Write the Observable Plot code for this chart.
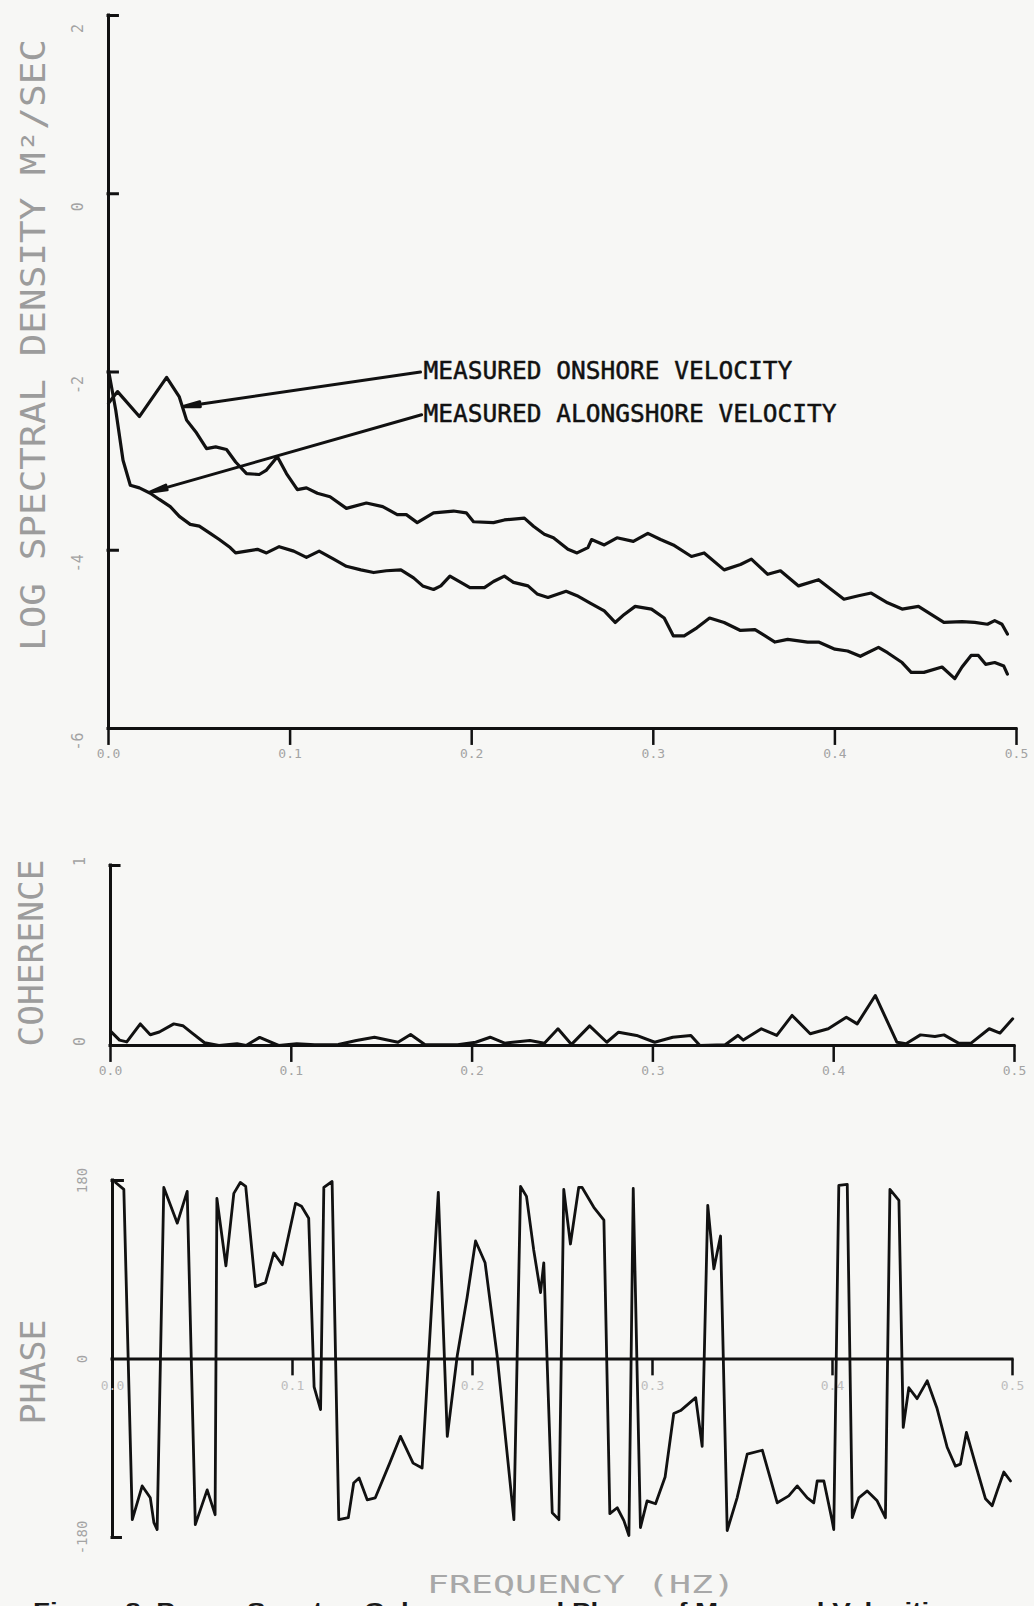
<!DOCTYPE html>
<html><head><meta charset="utf-8">
<script src="https://cdn.jsdelivr.net/npm/d3@7"></script>
<script src="https://cdn.jsdelivr.net/npm/@observablehq/plot@0.6"></script>
<style>
html,body{margin:0;padding:0;background:#f7f7f5;overflow:hidden;}
#wrap{position:relative;width:1034px;height:1606px;background:#f7f7f5;overflow:hidden;}
#wrap > svg{position:absolute;left:0;}
</style></head><body><div id="wrap"></div>
<script>
// ---------- data ----------
const freqTicks = [0, 0.1, 0.2, 0.3, 0.4, 0.5];
const freqTickLabels = ["0.0", "0.1", "0.2", "0.3", "0.4", "0.5"];

const specYTicks = [2, 0, -2, -4, -6];
const specYLabels = ["2", "0", "-2", "-4", "-6"];
const cohYTicks = [1, 0];
const cohYLabels = ["1", "0"];
const phaseYTicks = [180, 0, -180];
const phaseYLabels = ["180", "0", "-180"];

const onshoreF = [0.000,0.005,0.017,0.032,0.039,0.043,0.048,0.054,0.059,0.065,0.070,0.076,0.083,0.087,0.093,0.098,0.104,0.109,0.115,0.122,0.131,0.142,0.151,0.159,0.164,0.170,0.179,0.190,0.197,0.201,0.212,0.218,0.229,0.234,0.240,0.245,0.253,0.258,0.264,0.266,0.273,0.280,0.289,0.297,0.304,0.311,0.321,0.328,0.339,0.348,0.354,0.363,0.370,0.380,0.391,0.398,0.405,0.413,0.420,0.429,0.437,0.446,0.453,0.460,0.470,0.477,0.484,0.488,0.492,0.495];
const onshoreV = [-2.35,-2.22,-2.50,-2.06,-2.28,-2.54,-2.67,-2.86,-2.84,-2.87,-3.01,-3.14,-3.15,-3.10,-2.95,-3.14,-3.32,-3.30,-3.36,-3.40,-3.53,-3.47,-3.51,-3.60,-3.60,-3.69,-3.58,-3.56,-3.58,-3.68,-3.69,-3.66,-3.64,-3.73,-3.82,-3.86,-3.99,-4.03,-3.97,-3.88,-3.94,-3.86,-3.90,-3.81,-3.88,-3.94,-4.07,-4.03,-4.22,-4.16,-4.10,-4.27,-4.23,-4.40,-4.33,-4.44,-4.55,-4.51,-4.48,-4.59,-4.66,-4.63,-4.72,-4.81,-4.80,-4.81,-4.83,-4.79,-4.83,-4.94];

const alongF = [0.000,0.004,0.008,0.012,0.017,0.023,0.028,0.034,0.039,0.045,0.050,0.056,0.061,0.067,0.070,0.076,0.082,0.087,0.094,0.102,0.109,0.116,0.124,0.131,0.139,0.146,0.153,0.161,0.168,0.173,0.179,0.183,0.188,0.194,0.199,0.207,0.212,0.218,0.223,0.231,0.236,0.242,0.252,0.258,0.265,0.273,0.279,0.284,0.290,0.299,0.306,0.311,0.317,0.324,0.331,0.339,0.348,0.356,0.367,0.374,0.385,0.391,0.400,0.407,0.414,0.424,0.429,0.437,0.442,0.449,0.459,0.466,0.470,0.475,0.479,0.483,0.488,0.493,0.495];
const alongV = [-1.98,-2.43,-2.99,-3.27,-3.30,-3.36,-3.43,-3.51,-3.62,-3.71,-3.73,-3.81,-3.88,-3.97,-4.03,-4.01,-3.99,-4.03,-3.96,-4.01,-4.08,-4.01,-4.10,-4.18,-4.22,-4.25,-4.23,-4.22,-4.31,-4.40,-4.44,-4.40,-4.29,-4.36,-4.42,-4.42,-4.35,-4.29,-4.36,-4.40,-4.49,-4.53,-4.46,-4.51,-4.59,-4.68,-4.81,-4.72,-4.63,-4.66,-4.76,-4.96,-4.96,-4.87,-4.76,-4.81,-4.90,-4.89,-5.03,-5.00,-5.03,-5.03,-5.11,-5.13,-5.19,-5.09,-5.15,-5.26,-5.37,-5.37,-5.31,-5.44,-5.31,-5.18,-5.18,-5.28,-5.26,-5.30,-5.39];

const cohF = [0.000,0.005,0.009,0.0165,0.022,0.027,0.035,0.040,0.045,0.052,0.060,0.070,0.075,0.0825,0.093,0.103,0.113,0.126,0.136,0.146,0.159,0.166,0.174,0.192,0.202,0.210,0.218,0.232,0.240,0.2475,0.255,0.265,0.2745,0.281,0.291,0.301,0.311,0.321,0.326,0.340,0.347,0.350,0.360,0.3685,0.377,0.387,0.397,0.407,0.413,0.423,0.435,0.440,0.448,0.456,0.461,0.469,0.476,0.486,0.492,0.499];
const cohV = [0.08,0.03,0.02,0.12,0.06,0.075,0.12,0.11,0.07,0.015,0.0,0.01,0.0,0.045,0.0,0.01,0.004,0.006,0.028,0.046,0.018,0.061,0.004,0.004,0.018,0.046,0.013,0.028,0.013,0.093,0.006,0.109,0.018,0.074,0.056,0.018,0.046,0.056,0.0,0.004,0.056,0.03,0.093,0.056,0.167,0.065,0.093,0.157,0.12,0.278,0.018,0.01,0.059,0.05,0.059,0.013,0.013,0.093,0.069,0.148];

const phaseF = [0.0017,0.0063,0.011,0.0165,0.021,0.023,0.0248,0.0285,0.036,0.0415,0.046,0.0526,0.057,0.058,0.063,0.0674,0.071,0.074,0.0794,0.085,0.0896,0.0943,0.1017,0.105,0.109,0.112,0.1156,0.1174,0.122,0.1257,0.131,0.134,0.137,0.1415,0.146,0.154,0.16,0.167,0.172,0.181,0.186,0.1915,0.197,0.2017,0.207,0.2137,0.223,0.2267,0.230,0.234,0.2378,0.2396,0.2443,0.248,0.2507,0.2544,0.259,0.2609,0.2674,0.273,0.2763,0.2804,0.2841,0.2869,0.2893,0.2933,0.297,0.3017,0.307,0.3118,0.3156,0.324,0.3276,0.3307,0.3341,0.3378,0.3415,0.347,0.3526,0.361,0.3693,0.3757,0.3804,0.386,0.3896,0.3915,0.3952,0.3998,0.4007,0.4035,0.4082,0.411,0.4146,0.4193,0.4248,0.4294,0.4319,0.4369,0.4393,0.4424,0.447,0.4526,0.4581,0.4637,0.4683,0.4711,0.4744,0.4794,0.485,0.4887,0.4915,0.4952,0.4989];
const phaseV = [178,171,-162,-128,-140,-165,-172,173,137,169,-167,-132,-157,162,94,167,178,174,73,77,107,95,157,154,142,-28,-51,173,179,-162,-160,-125,-120,-142,-140,-105,-78,-105,-110,168,-78,3,62,119,97,3,-162,174,164,110,67,97,-155,-162,171,116,173,173,153,140,-156,-150,-163,-178,172,-170,-143,-146,-119,-55,-52,-39,-88,155,91,124,-173,-140,-96,-92,-145,-138,-128,-140,-145,-123,-123,-163,-172,175,176,-160,-140,-133,-143,-160,171,160,-69,-29,-40,-22,-50,-89,-108,-106,-74,-106,-141,-148,-133,-114,-123];

// annotation labels and their leader arrows (data units: frequency, log density)
const annLabels = ["MEASURED ONSHORE VELOCITY", "MEASURED ALONGSHORE VELOCITY"];
const annLabelF = [0.1735, 0.1735];
const annLabelV = [-1.99, -2.47];
const annTailF = [0.1718, 0.1724];
const annTailV = [-2.00, -2.48];
const annTipF = [0.0407, 0.0225];
const annTipV = [-2.39, -3.35];

// ---------- build ----------
const ink = "#111";
const faint = "#a3a3a3";
const W = 1034;
const mono = "DejaVu Sans Mono";
const wrap = document.getElementById("wrap");

const rows = (fs, vs) => d3.zip(fs, vs).map(([f, v]) => ({f, v}));
const onshore = rows(onshoreF, onshoreV);
const along = rows(alongF, alongV);
const coh = rows(cohF, cohV);
const phase = rows(phaseF, phaseV);
const ann = annLabels.map((t, i) => ({t, lf: annLabelF[i], lv: annLabelV[i], x1: annTailF[i], y1: annTailV[i], x2: annTipF[i], y2: annTipV[i]}));
const xTickRows = freqTicks.map((f, i) => ({f, t: freqTickLabels[i]}));

const common = {width: W, style: {background: "transparent", overflow: "visible"}};
const ruleStyle = {stroke: ink, strokeWidth: 3, strokeLinecap: "square"};

// Spectral density panel
const spec = Plot.plot({
  ...common, height: 780, marginTop: 15, marginBottom: 52, marginLeft: 108, marginRight: 18,
  x: {domain: [0, 0.5], axis: null},
  y: {domain: [-6, 2], axis: null},
  marks: [
    Plot.ruleX([0], {y1: -6, y2: 2, ...ruleStyle}),
    Plot.ruleY(specYTicks.filter(d => d > -6), {x1: 0, x2: 0.0052, ...ruleStyle}),
    Plot.ruleY([-6], {x1: 0, x2: 0.5, ...ruleStyle}),
    Plot.ruleX(freqTicks, {y1: -6, y2: -6.19, stroke: ink, strokeWidth: 2.5}),
    Plot.text(xTickRows, {x: "f", y: -6, text: "t", dy: 25, fill: faint, fontSize: 13, fontFamily: mono}),
    Plot.text(specYTicks, {x: 0, y: d => d, text: (d, i) => specYLabels[i], rotate: -90, dx: -30, dy: 13, fill: faint, fontSize: 15, fontFamily: mono}),
    Plot.line(onshore, {x: "f", y: "v", stroke: ink, strokeWidth: 3.2, strokeLinejoin: "round"}),
    Plot.line(along, {x: "f", y: "v", stroke: ink, strokeWidth: 3.2, strokeLinejoin: "round"}),
    Plot.arrow(ann, {x1: "x1", y1: "y1", x2: "x2", y2: "y2", stroke: ink, strokeWidth: 3, headAngle: 16, headLength: 9}),
    Plot.text(ann, {x: "lf", y: "lv", text: "t", textAnchor: "start", lineAnchor: "middle", fill: ink, stroke: ink, strokeWidth: 0.5, fontSize: 24.5, fontFamily: mono})
  ]
});
spec.style.top = "0px";
wrap.appendChild(spec);

// Coherence panel
const cohPlot = Plot.plot({
  ...common, height: 300, marginTop: 65, marginBottom: 55, marginLeft: 110, marginRight: 20,
  x: {domain: [0, 0.5], axis: null},
  y: {domain: [0, 1], axis: null},
  marks: [
    Plot.ruleX([0], {y1: 0, y2: 1, ...ruleStyle}),
    Plot.ruleY([1], {x1: 0, x2: 0.005, ...ruleStyle}),
    Plot.ruleY([0], {x1: 0, x2: 0.5, ...ruleStyle}),
    Plot.ruleX(freqTicks, {y1: 0, y2: -0.094, stroke: ink, strokeWidth: 2.5}),
    Plot.text(xTickRows, {x: "f", y: 0, text: "t", dy: 25, fill: faint, fontSize: 13, fontFamily: mono}),
    Plot.text(cohYTicks, {x: 0, y: d => d, text: (d, i) => cohYLabels[i], rotate: -90, dx: -30, dy: -4, fill: faint, fontSize: 15, fontFamily: mono}),
    Plot.line(coh, {x: "f", y: "v", stroke: ink, strokeWidth: 3, strokeLinejoin: "round"})
  ]
});
cohPlot.style.top = "800px";
wrap.appendChild(cohPlot);

// Phase panel
const phasePlot = Plot.plot({
  ...common, height: 496, marginTop: 70, marginBottom: 69, marginLeft: 112, marginRight: 22,
  x: {domain: [0, 0.5], axis: null},
  y: {domain: [-180, 180], axis: null},
  marks: [
    Plot.ruleX([0], {y1: -180, y2: 180, ...ruleStyle}),
    Plot.ruleY([180], {x1: 0, x2: 0.0058, ...ruleStyle}),
    Plot.ruleY([-180], {x1: 0, x2: 0.0047, ...ruleStyle}),
    Plot.ruleY([0], {x1: 0, x2: 0.5, ...ruleStyle}),
    Plot.ruleX(freqTicks.filter(f => f > 0), {y1: 0, y2: -17, stroke: ink, strokeWidth: 2.5}),
    Plot.text(xTickRows, {x: "f", y: 0, text: "t", dy: 27, fill: "#bdbdbd", fontSize: 13, fontFamily: mono}),
    Plot.text(phaseYTicks, {x: 0, y: d => d, text: (d, i) => phaseYLabels[i], rotate: -90, dx: -30, dy: 0, fill: faint, fontSize: 14, fontFamily: mono}),
    Plot.line(phase, {x: "f", y: "v", stroke: ink, strokeWidth: 2.8, strokeLinejoin: "round"})
  ]
});
phasePlot.style.top = "1110px";
wrap.appendChild(phasePlot);

// Titles and caption (text only)
const over = d3.select(wrap).append("svg")
  .attr("width", W).attr("height", 1606)
  .style("top", "0px").style("pointer-events", "none");

function vTitle(text, x, cy, len) {
  over.append("text")
    .attr("transform", `translate(${x},${cy}) rotate(-90)`)
    .attr("text-anchor", "middle")
    .attr("font-family", mono).attr("font-size", 33)
    .attr("fill", "#9c9c9c")
    .attr("textLength", len).attr("lengthAdjust", "spacingAndGlyphs")
    .text(text);
}
vTitle("LOG SPECTRAL DENSITY  M²/SEC", 45, 345, 612);
vTitle("COHERENCE", 43, 953, 187);
vTitle("PHASE", 45, 1372, 105);

over.append("text")
  .attr("x", 581).attr("y", 1593).attr("text-anchor", "middle")
  .attr("font-family", mono).attr("font-size", 25).attr("fill", "#a8a8a8")
  .attr("textLength", 308).attr("lengthAdjust", "spacingAndGlyphs")
  .text("FREQUENCY (HZ)");

over.append("text")
  .attr("x", 33).attr("y", 1618)
  .attr("font-family", "Liberation Sans").attr("font-weight", "bold").attr("font-size", 22).attr("fill", "#1a1a1a")
  .attr("textLength", 927).attr("lengthAdjust", "spacingAndGlyphs")
  .text("Figure 8. Power Spectra, Coherence and Phase of Measured Velocities");
</script></body></html>
